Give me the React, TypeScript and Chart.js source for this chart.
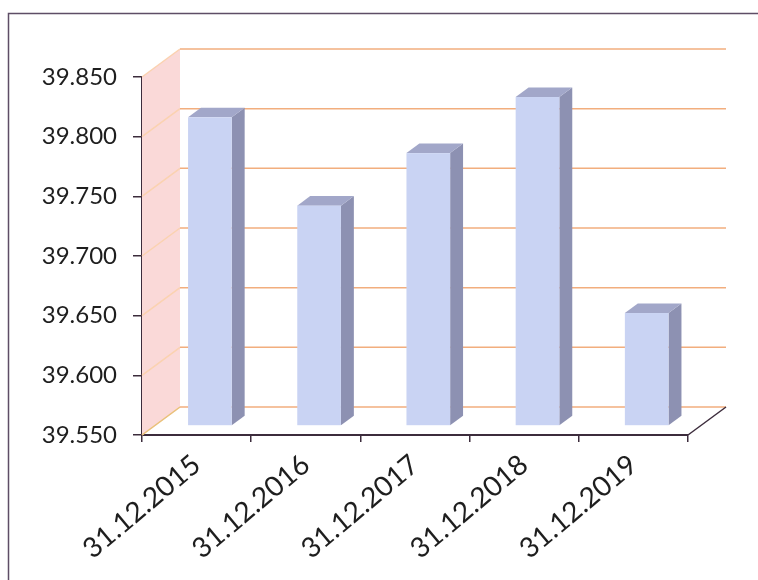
import React, { useEffect, useRef } from "react";
import { Chart, registerables } from "chart.js";

Chart.register(...registerables);

const categories = ["31.12.2015", "31.12.2016", "31.12.2017", "31.12.2018", "31.12.2019"];
const values = [39.808, 39.734, 39.778, 39.825, 39.644];
const yMin = 39.55;
const yMax = 39.85;
const yStep = 0.05;

const W = 758;
const H = 580;
// 3D depth of the plot box and of the bars
const DX = 38;
const DY = 28;
const BAR_FRONT = 0.35;
const BAR_BACK = 0.69;

const threeD = {
  id: "threeD",
  beforeDraw(chart: any) {
    const ctx = chart.ctx;
    ctx.save();
    ctx.fillStyle = "#ffffff";
    ctx.fillRect(0, 0, chart.width, chart.height);
    ctx.strokeStyle = "#5e4e66";
    ctx.lineWidth = 1.5;
    ctx.beginPath();
    ctx.moveTo(8.5, chart.height);
    ctx.lineTo(8.5, 13.5);
    ctx.lineTo(chart.width, 13.5);
    ctx.stroke();
    ctx.restore();
  },
  beforeDatasetsDraw(chart: any) {
    const ctx = chart.ctx;
    const ys = chart.scales.y;
    const { left: L, right: R, top: T, bottom: B } = chart.chartArea;
    ctx.save();
    // left wall
    ctx.fillStyle = "#fad9d8";
    ctx.beginPath();
    ctx.moveTo(L, T);
    ctx.lineTo(L + DX, T - DY);
    ctx.lineTo(L + DX, B - DY);
    ctx.lineTo(L, B);
    ctx.closePath();
    ctx.fill();
    // gridlines
    ys.ticks.forEach((t: any) => {
      const y = ys.getPixelForValue(t.value);
      ctx.strokeStyle = "#fbd2b0";
      ctx.lineWidth = 1.5;
      ctx.beginPath();
      ctx.moveTo(L, y);
      ctx.lineTo(L + DX, y - DY);
      ctx.stroke();
      ctx.strokeStyle = "#f2ae7e";
      ctx.lineWidth = 1.5;
      ctx.beginPath();
      ctx.moveTo(L + DX, y - DY);
      ctx.lineTo(R + DX, y - DY);
      ctx.stroke();
    });
    // floor edges
    ctx.strokeStyle = "#e8c27a";
    ctx.lineWidth = 1.2;
    ctx.beginPath();
    ctx.moveTo(L, B);
    ctx.lineTo(L + DX, B - DY);
    ctx.stroke();
    ctx.strokeStyle = "#3c2c3c";
    ctx.lineWidth = 1.5;
    ctx.beginPath();
    ctx.moveTo(R, B);
    ctx.lineTo(R + DX, B - DY);
    ctx.stroke();
    ctx.restore();
  },
  afterDatasetsDraw(chart: any) {
    const ctx = chart.ctx;
    const meta = chart.getDatasetMeta(0);
    const B = chart.chartArea.bottom;
    const fx = DX * BAR_FRONT;
    const fy = DY * BAR_FRONT;
    const dx = DX * (BAR_BACK - BAR_FRONT);
    const dy = DY * (BAR_BACK - BAR_FRONT);
    ctx.save();
    meta.data.forEach((el: any) => {
      const { x, y, base, width } = el.getProps(["x", "y", "base", "width"], true);
      const x0 = x - width / 2 + fx;
      const x1 = x + width / 2 + fx;
      const yt = y - fy;
      const yb = Math.min(base, B) - fy;
      // side face
      ctx.fillStyle = "#8d91b2";
      ctx.beginPath();
      ctx.moveTo(x1, yt);
      ctx.lineTo(x1 + dx, yt - dy);
      ctx.lineTo(x1 + dx, yb - dy);
      ctx.lineTo(x1, yb);
      ctx.closePath();
      ctx.fill();
      // top face
      ctx.fillStyle = "#a2a7c9";
      ctx.beginPath();
      ctx.moveTo(x0, yt);
      ctx.lineTo(x0 + dx, yt - dy);
      ctx.lineTo(x1 + dx, yt - dy);
      ctx.lineTo(x1, yt);
      ctx.closePath();
      ctx.fill();
      // front face
      ctx.fillStyle = "#c9d3f3";
      ctx.fillRect(x0, yt, x1 - x0, yb - yt);
    });
    ctx.restore();
  },
};

export default function App() {
  const ref = useRef<HTMLCanvasElement | null>(null);

  useEffect(() => {
    if (!ref.current) return;
    const chart = new Chart(ref.current, {
      type: "bar",
      data: {
        labels: categories,
        datasets: [
          {
            data: values,
            backgroundColor: "rgba(0,0,0,0)",
            borderWidth: 0,
            barPercentage: 0.4,
            categoryPercentage: 1,
          },
        ],
      },
      options: {
        responsive: false,
        animation: false,
        events: [],
        layout: { padding: { top: 77, right: 70, left: 0, bottom: 0 } },
        plugins: { legend: { display: false }, tooltip: { enabled: false } },
        scales: {
          x: {
            grid: {
              offset: true,
              drawOnChartArea: false,
              drawTicks: true,
              tickLength: 7,
              color: "#3c2c3c",
              lineWidth: 1.5,
            },
            border: { display: true, color: "#3c2c3c", width: 2 },
            ticks: {
              minRotation: 40,
              maxRotation: 40,
              padding: 6,
              color: "#1e1e1e",
              font: { family: "Lato", size: 28 },
            },
            afterFit: (s: any) => {
              s.height = H - 435;
            },
          },
          y: {
            min: yMin,
            max: yMax,
            grid: {
              drawOnChartArea: false,
              drawTicks: true,
              tickLength: 9,
              color: "#3c2c3c",
              lineWidth: 1.5,
            },
            border: { display: true, color: "#3c2c3c", width: 2 },
            ticks: {
              stepSize: yStep,
              padding: 16,
              color: "#1e1e1e",
              font: { family: "Lato", size: 24 },
              callback: (v: any) => Number(v).toFixed(3),
            },
            afterFit: (s: any) => {
              s.width = 142;
            },
          },
        },
      },
      plugins: [threeD],
    });
    return () => chart.destroy();
  }, []);

  return (
    <div style={{ position: "fixed", left: 0, top: 0, width: W, height: H }}>
      <canvas ref={ref} width={W} height={H} style={{ width: W, height: H, display: "block" }} />
    </div>
  );
}
